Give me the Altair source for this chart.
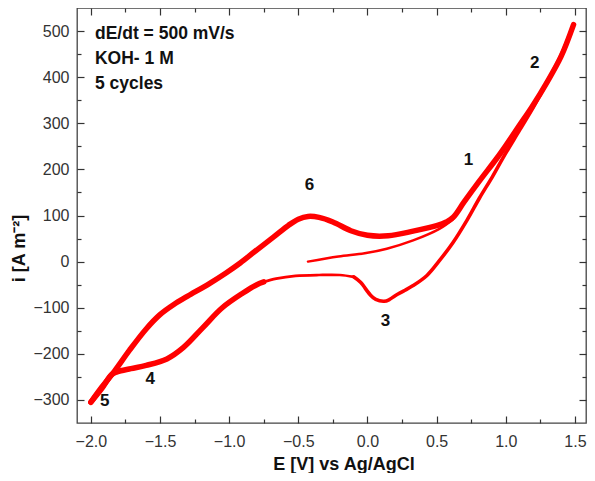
import altair as alt
import pandas as pd

# ---- data (E in V vs Ag/AgCl, i in A m^-2) ----
# first (initial) sweep from the rest potential
init_E = [-0.43, -0.21, -0.02, 0.14, 0.33, 0.52, 0.62]
init_i = [0, 11, 18, 28, 46, 71, 92]

# anodic (forward) sweep, -2.0 V -> 1.5 V
fwd_E = [-2.0, -1.92, -1.83, -1.72, -1.6, -1.5, -1.4, -1.3, -1.14, -1.02,
         -0.92, -0.81, -0.68, -0.57, -0.5, -0.43, -0.35, -0.25, -0.12, 0.0,
         0.15, 0.33, 0.5, 0.57, 0.62, 0.7, 0.81, 0.93, 0.98, 1.1, 1.19,
         1.3, 1.4, 1.49]
fwd_i = [-305, -272, -238, -192, -146, -115, -93, -75, -47, -24,
         -3, 23, 53, 79, 92, 98, 96, 86, 67, 57,
         56, 66, 78, 86, 96, 130, 175, 222, 243, 296, 336,
         390, 445, 514]

# cathodic (reverse) sweep, 1.5 V -> -2.0 V, in three pieces
rev_a_E = [1.49, 1.4, 1.3, 1.2, 1.1, 0.98, 0.905, 0.81, 0.72, 0.62, 0.52, 0.43,
           0.33, 0.26, 0.2, 0.16, 0.12, 0.06, 0.02, -0.05, -0.1]
rev_a_i = [514, 448, 390, 335, 285, 225, 185, 138, 90, 42, 2, -30,
           -52, -64, -74, -82, -86, -82, -72, -45, -33]
rev_c_E = [-0.1, -0.2, -0.35, -0.52, -0.66, -0.75]
rev_c_i = [-33, -29, -29, -31, -37, -44]
rev_d_E = [-0.75, -0.8, -0.9, -1.05, -1.19, -1.33, -1.45, -1.6, -1.71, -1.81,
           -1.85, -1.92, -2.0]
rev_d_i = [-44, -50, -68, -100, -143, -186, -211, -225, -232, -239,
           -245, -275, -305]

num_labels = ["1", "2", "3", "4", "5", "6"]
num_E = [0.73, 1.21, 0.13, -1.57, -1.90, -0.42]
num_i = [221, 431, -128, -254, -303, 166]

ann_lines = ["dE/dt = 500 mV/s", "KOH- 1 M", "5 cycles"]
ann_E = [-1.97, -1.97, -1.97]
ann_i = [493, 440, 386]

x_major = [-2.0, -1.5, -1.0, -0.5, 0.0, 0.5, 1.0, 1.5]
x_all = [-2.0, -1.75, -1.5, -1.25, -1.0, -0.75, -0.5, -0.25, 0.0, 0.25,
         0.5, 0.75, 1.0, 1.25, 1.5]
y_major = [-300, -200, -100, 0, 100, 200, 300, 400, 500]
y_all = [-300, -250, -200, -150, -100, -50, 0, 50, 100, 150, 200, 250,
         300, 350, 400, 450, 500]

pieces = [("initial", init_E, init_i, 2.5), ("forward", fwd_E, fwd_i, 5.5),
          ("rev_a", rev_a_E, rev_a_i, 3.6), ("rev_c", rev_c_E, rev_c_i, 2.7),
          ("rev_d", rev_d_E, rev_d_i, 5.5)]

rows = []
for name, Es, Is, _w in pieces:
    for k, (e, i) in enumerate(zip(Es, Is)):
        rows.append({"E": e, "i": i, "branch": name, "idx": k})
df = pd.DataFrame(rows)
nums = pd.DataFrame({"t": num_labels, "E": num_E, "i": num_i})
ann = pd.DataFrame({"t": ann_lines, "E": ann_E, "i": ann_i})

W, H = 509, 415
FONT = "Liberation Sans"
xs = alt.Scale(domain=[-2.1, 1.58], nice=False, zero=False)
ys = alt.Scale(domain=[-350, 550], nice=False, zero=False)

x_tick = {"condition": {"test": "abs(datum.value*2 - round(datum.value*2)) < 0.001", "value": 7}, "value": 4}
y_tick = {"condition": {"test": "abs(datum.value % 100) < 0.001", "value": 7}, "value": 4}

common_tick = dict(labels=False, domain=False, grid=False, title=None,
                   tickColor="#333", tickWidth=1.2)

x_label_axis = alt.Axis(orient="bottom", values=x_major, format=".1f", ticks=False,
                        tickSize=0, domain=False, grid=False, labelFont=FONT,
                        labelFontSize=16, labelColor="#333", labelPadding=10,
                        title="E [V] vs Ag/AgCl", titleFont=FONT, titleFontSize=18,
                        titleFontWeight="bold", titleColor="#111", titlePadding=6,
                        titleX=W / 2 + 12)
y_label_axis = alt.Axis(orient="left", values=y_major, format="d", ticks=False,
                        tickSize=0, domain=False, grid=False, labelFont=FONT,
                        labelFontSize=16, labelColor="#333", labelPadding=8,
                        title="i [A m⁻²]", titleFont=FONT, titleFontSize=18,
                        titleFontWeight="bold", titleColor="#111", titlePadding=4,
                        titleY=240)

base = alt.Chart(df)
line_layers = []
for n, (name, _E, _I, w) in enumerate(pieces):
    xa = x_label_axis if n == 0 else None
    ya = y_label_axis if n == 0 else None
    line_layers.append(
        base.transform_filter(alt.datum.branch == name).mark_line(
            interpolate="catmull-rom", color="#ff0000", strokeWidth=w,
            strokeCap="round", strokeJoin="round").encode(
            x=alt.X("E:Q", scale=xs, axis=xa),
            y=alt.Y("i:Q", scale=ys, axis=ya),
            order="idx:Q",
        )
    )

num_text = alt.Chart(nums).mark_text(font=FONT, fontSize=17, fontWeight="bold",
                                     color="#111", baseline="middle", align="center").encode(
    x=alt.X("E:Q", scale=xs, axis=alt.Axis(orient="top", offset=-H, values=x_all,
                                           tickSize=x_tick, **common_tick)),
    y=alt.Y("i:Q", scale=ys, axis=alt.Axis(orient="right", offset=-W, values=y_all,
                                           tickSize=y_tick, **common_tick)),
    text="t:N",
)

ann_text = alt.Chart(ann).mark_text(font=FONT, fontSize=17.5, fontWeight="bold",
                                    color="#111", baseline="middle", align="left").encode(
    x=alt.X("E:Q", scale=xs, axis=alt.Axis(orient="bottom", offset=-H, values=x_all,
                                           tickSize=x_tick, **common_tick)),
    y=alt.Y("i:Q", scale=ys, axis=alt.Axis(orient="left", offset=-W, values=y_all,
                                           tickSize=y_tick, **common_tick)),
    text="t:N",
)

chart = alt.layer(*line_layers, num_text, ann_text).resolve_axis(
    x="independent", y="independent"
).properties(
    width=W, height=H,
    autosize=alt.AutoSizeParams(type="none"),
    padding={"left": 69, "top": 0, "right": 1, "bottom": 50},
    background="white",
).configure_view(stroke="#444", strokeWidth=1.3)

chart.save("out.html", embed_options={"renderer": "svg", "actions": False})
